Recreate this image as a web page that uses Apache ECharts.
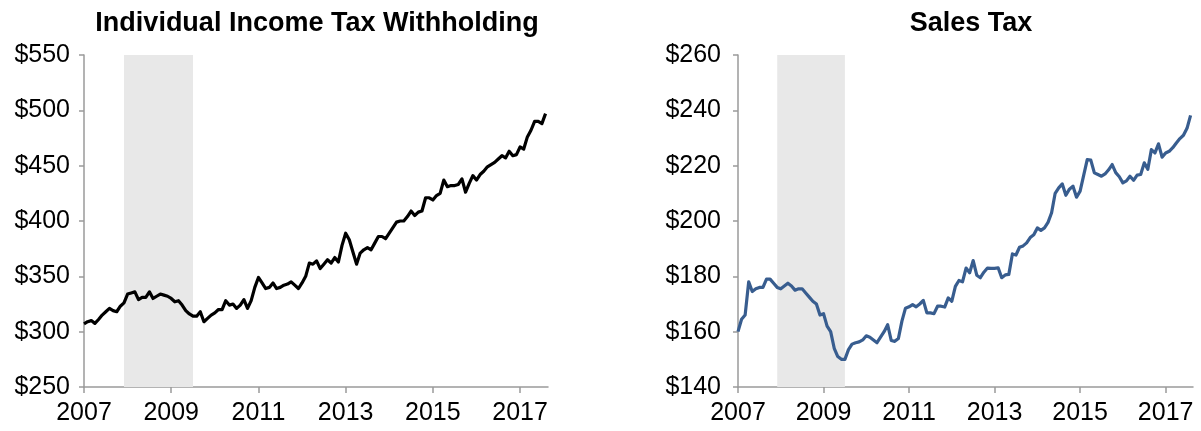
<!DOCTYPE html>
<html>
<head>
<meta charset="utf-8">
<script src="https://cdn.jsdelivr.net/npm/echarts@6/dist/echarts.min.js"></script>
<style>
  html, body { margin: 0; padding: 0; background: #fff; }
  #chart { width: 1201px; height: 431px; }
</style>
</head>
<body>
<div id="chart"></div>
<script>
// monthly series, Jan 2007 .. Aug 2017 (billions of dollars)
const startYear = 2007
const xTicks = [2007, 2009, 2011, 2013, 2015, 2017]
const recession = [2007.917, 2009.5]

// Individual income tax withholding
const withholding = [
  307, 309, 310, 307.5, 311, 315, 318, 321, 319, 318, 323, 326,
  334, 335, 336, 329, 331, 331, 336, 330, 332, 334, 333, 332,
  330, 327, 328, 324, 319, 316, 314, 314, 318, 309, 312, 315,
  317, 320, 320, 328, 324, 325, 321, 324, 329, 321, 328, 340,
  349, 344, 339, 340, 344, 339, 340, 342, 343, 345, 342, 339,
  344, 350, 362, 361, 364, 357, 361, 365, 362, 367, 363, 378,
  389, 383, 372, 361, 371, 374, 376, 374, 380, 386, 386, 384,
  389, 394, 399, 400, 400, 404, 409, 405, 408, 409, 421, 421,
  419, 423, 425, 437, 431, 432, 432, 433, 438, 426, 434, 441,
  437, 442, 445, 449, 451, 453, 456, 459, 457, 463, 459, 460,
  467, 465, 476, 482, 490, 490, 488, 497
]

// Sales tax
const salesTax = [
  160, 164.5, 166, 178, 174.5, 175.5, 176, 176, 179, 179, 177.5, 176,
  175.5, 176.5, 177.5, 176.5, 175, 175.5, 175.5, 174, 172.5, 171, 170, 166,
  166.5, 162, 160, 154, 151, 150, 150, 153.5, 155.5, 156, 156.3, 157,
  158.5, 158, 157, 156, 158, 160, 162.5, 156.8, 156.5, 157.5, 163.8, 168.5,
  169, 169.8, 169, 170, 171.3, 166.8, 166.8, 166.5, 169.2, 169.2, 168.9, 172.2,
  171, 176.4, 178.5, 178, 183, 181.3, 185.7, 180.4, 179.5, 181.5, 183, 182.9,
  182.9, 183.1, 179.5, 180.5, 180.7, 188.1, 187.7, 190.5, 191, 192.1, 194, 195,
  197.5, 196.6, 197.5, 199.5, 203, 210, 212, 213.4, 209.3, 211.5, 212.6, 208.6,
  210.8, 216.5, 222.2, 222, 217.4, 216.8, 216.2, 217, 218.5, 220.4, 217.5, 216,
  213.8, 214.5, 216.2, 214.7, 216.6, 216.8, 221, 218.7, 225.8, 224.6, 227.9, 223.1,
  224.6, 225.2, 226.5, 228.2, 229.8, 231, 233.5, 238.2
]

const font = 'Liberation Sans, Arial, sans-serif'

// month index -> fractional year
function toPoints(values) {
  return values.map((v, i) => [startYear + i / 12, v])
}

function xAxisFor(gridIndex) {
  return {
    type: 'value',
    gridIndex: gridIndex,
    min: 2007,
    max: 2017.64,
    splitLine: { show: false },
    axisLine: { lineStyle: { color: '#9a9a9a', width: 1.5 } },
    axisTick: { show: true, length: 6, lineStyle: { color: '#9a9a9a', width: 1.5 }, customValues: xTicks },
    axisLabel: {
      customValues: xTicks,
      color: '#000',
      fontFamily: font,
      fontSize: 25,
      margin: 14,
      formatter: v => String(Math.round(v))
    }
  }
}

function yAxisFor(gridIndex, min, max, interval, margin) {
  return {
    type: 'value',
    gridIndex: gridIndex,
    min: min,
    max: max,
    interval: interval,
    splitLine: { show: false },
    axisLine: { show: true, lineStyle: { color: '#9a9a9a', width: 1.5 } },
    axisTick: { show: true, length: 5, lineStyle: { color: '#9a9a9a', width: 1.5 } },
    axisLabel: {
      color: '#000',
      fontFamily: font,
      fontSize: 25,
      margin: margin,
      formatter: v => '$' + v
    }
  }
}

function recessionArea() {
  return {
    silent: true,
    itemStyle: { color: '#e8e8e8' },
    data: [[{ xAxis: recession[0] }, { xAxis: recession[1] }]]
  }
}

const chart = echarts.init(document.getElementById('chart'))
chart.setOption({
  animation: false,
  backgroundColor: '#fff',
  title: [
    {
      text: 'Individual Income Tax Withholding',
      left: 312, top: 5, textAlign: 'center',
      textStyle: { fontFamily: font, fontSize: 27, fontWeight: 'bold', color: '#000' }
    },
    {
      text: 'Sales Tax',
      left: 966, top: 5, textAlign: 'center',
      textStyle: { fontFamily: font, fontSize: 27, fontWeight: 'bold', color: '#000' }
    }
  ],
  grid: [
    { left: 84, top: 55, width: 464, bottom: 44 },
    { left: 738, top: 55, width: 455, bottom: 44 }
  ],
  xAxis: [xAxisFor(0), xAxisFor(1)],
  yAxis: [yAxisFor(0, 250, 550, 50, 14), yAxisFor(1, 140, 260, 20, 17)],
  series: [
    {
      name: 'Individual Income Tax Withholding',
      type: 'line',
      xAxisIndex: 0, yAxisIndex: 0,
      data: toPoints(withholding),
      showSymbol: false,
      lineStyle: { color: '#000', width: 3.2, join: 'round' },
      markArea: recessionArea(),
      z: 3
    },
    {
      name: 'Sales Tax',
      type: 'line',
      xAxisIndex: 1, yAxisIndex: 1,
      data: toPoints(salesTax),
      showSymbol: false,
      lineStyle: { color: '#385d8f', width: 3.2, join: 'round' },
      markArea: recessionArea(),
      z: 3
    }
  ]
})
</script>
</body>
</html>
